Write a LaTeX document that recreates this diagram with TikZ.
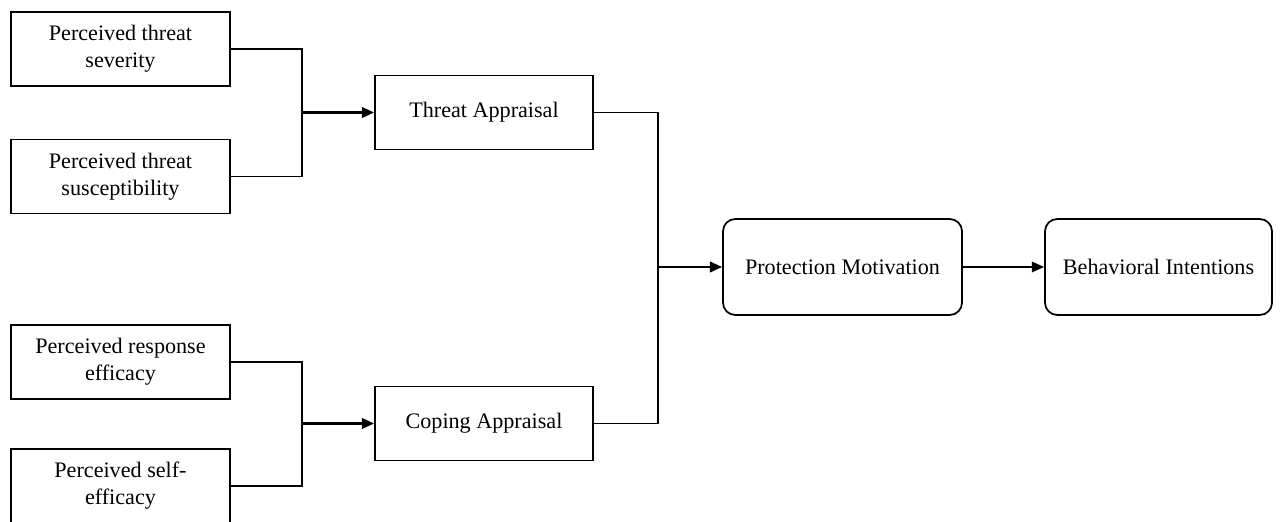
\documentclass[tikz,border=0pt]{standalone}
\usepackage{fontspec}
\setmainfont{Liberation Serif}
\usetikzlibrary{arrows.meta}

\begin{document}
\begin{tikzpicture}[
  factor/.style={draw, line width=1pt, minimum width=4.38cm, minimum height=1.48cm,
                 align=center, inner sep=0pt, font=\fontsize{12.6}{15.3}\selectfont},
  appraisal/.style={factor, minimum width=4.36cm},
  outcome/.style={factor, rounded corners=7pt, minimum height=1.92cm},
  link/.style={line width=1pt},
  flow/.style={link, -{Triangle[length=7pt, width=6pt]}}
]
\useasboundingbox (0,0) rectangle (25.64,10.42);

% ============================================================
% Left column — perceived factors
% ============================================================
\node[factor] (sev)  at (2.41, 9.44) {Perceived threat\\severity};
\node[factor] (sus)  at (2.41, 6.89) {Perceived threat\\susceptibility};
\node[factor] (resp) at (2.41, 3.18) {Perceived response\\efficacy};
\node[factor] (self) at (2.41, 0.70) {Perceived self-\\efficacy};

% ============================================================
% Appraisals and outcomes
% ============================================================
\node[appraisal] (threat) at (9.68, 8.17) {Threat Appraisal};
\node[appraisal] (coping) at (9.68, 1.95) {Coping Appraisal};

\node[outcome, minimum width=4.78cm] (motiv)  at (16.85, 5.08) {Protection Motivation};
\node[outcome, minimum width=4.54cm] (intent) at (23.17, 5.08) {Behavioral Intentions};

% Junctions
\coordinate (jthreat) at ([xshift=-1.44cm]threat.west);
\coordinate (jcoping) at ([xshift=-1.44cm]coping.west);
\coordinate (jmotiv)  at ([xshift=-1.28cm]motiv.west);

% Connectors
\draw[link] (sev.east) -| (jthreat) |- (sus.east);
\draw[flow, line width=1.4pt] (jthreat) -- (threat.west);

\draw[link] (resp.east) -| (jcoping) |- (self.east);
\draw[flow, line width=1.4pt] (jcoping) -- (coping.west);

\draw[link] (threat.east) -| (jmotiv) |- (coping.east);
\draw[flow, line width=1.4pt] (jmotiv) -- (motiv.west);

\draw[flow] (motiv.east) -- (intent.west);

\end{tikzpicture}
\end{document}
